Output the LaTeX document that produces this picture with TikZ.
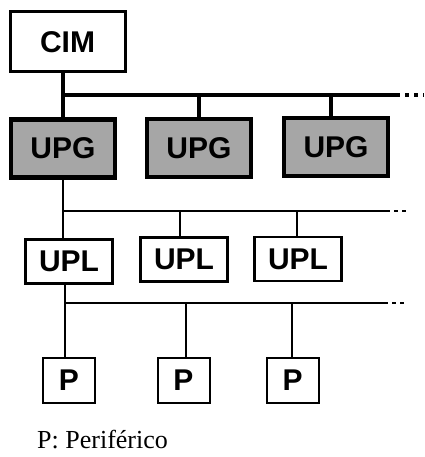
\documentclass[tikz,border=0pt]{standalone}
\usepackage{fontspec}
\setsansfont{Liberation Sans}
\setmainfont{Liberation Serif}
\begin{document}
\begin{tikzpicture}[x=1pt,y=1pt,
  box/.style={draw=black, rectangle, inner sep=0pt, font=\sffamily\bfseries\fontsize{30}{30}\selectfont},
  cimbox/.style={box, line width=3pt, minimum width=115pt, minimum height=60pt},
  upgbox/.style={box, line width=4.5pt, fill=black!35, minimum width=104pt, minimum height=58pt},
  uplbox/.style={box, line width=2.2pt, minimum width=87pt, minimum height=44pt},
  pbox/.style={box, line width=2pt, minimum width=52pt, minimum height=45pt},
  thickbus/.style={line width=4pt},
  bus/.style={line width=2pt},
  drop/.style={line width=1.6pt},
  more/.style={line width=2pt, dash pattern=on 4pt off 4pt}]
\useasboundingbox (0,0) rectangle (424,-457);
\node[cimbox] (cim) at (67.5,-42) {CIM};
\node[upgbox] (upg1) at (63,-148.5) {UPG};
\node[upgbox] (upg2) at (199,-148) {UPG};
\node[upgbox] (upg3) at (336,-147) {UPG};
\node[uplbox] (upl1) at (69,-261.5) {UPL};
\node[uplbox] (upl2) at (184,-259.5) {UPL};
\node[uplbox] (upl3) at (298,-259) {UPL};
\node[pbox] (p1) at (69,-380.5) {P};
\node[pbox] (p2) at (183.5,-380) {P};
\node[pbox] (p3) at (292.5,-380) {P};
\node[font=\fontsize{26}{26}\selectfont, anchor=west, inner sep=0pt] (lbl) at (37,-440) {P: Periférico};
% bus 1
\coordinate (b1a) at (63,-95);
\coordinate (b1b) at (396,-95);
\coordinate (b1c) at (424,-95);
\draw[thickbus] (upg1.north) -- (upg1.north |- cim.south);
\draw[thickbus] (b1a) -- (b1b);
\draw[thickbus, dash pattern=on 4pt off 5pt] (b1b) -- (b1c);
\draw[thickbus] (b1a -| upg2.north) -- (upg2.north);
\draw[thickbus] (331,-95) coordinate (b1u3) -- (b1u3 |- upg3.north);
% bus 2
\coordinate (b2a) at (63,-211);
\coordinate (b2b) at (386,-211);
\coordinate (b2c) at (406,-211);
\draw[bus] (upg1.south) -- (upg1.south |- upl1.north);
\draw[bus] (b2a) -- (b2b);
\draw[more] (b2b) -- (b2c);
\draw[bus] (180,-211) coordinate (b2u2) -- (b2u2 |- upl2.north);
\draw[bus] (297,-211) coordinate (b2u3) -- (b2u3 |- upl3.north);
% bus 3
\coordinate (b3a) at (65,-303);
\coordinate (b3b) at (384,-303);
\coordinate (b3c) at (406,-303);
\draw[bus] (upl1.south -| b3a) -- (b3a);
\draw[bus] (b3a) -- (b3b);
\draw[more] (b3b) -- (b3c);
\draw[drop] (b3a) -- (b3a |- p1.north);
\draw[drop] (186,-303) coordinate (b3u2) -- (b3u2 |- p2.north);
\draw[drop] (292,-303) coordinate (b3u3) -- (b3u3 |- p3.north);
\end{tikzpicture}
\end{document}
